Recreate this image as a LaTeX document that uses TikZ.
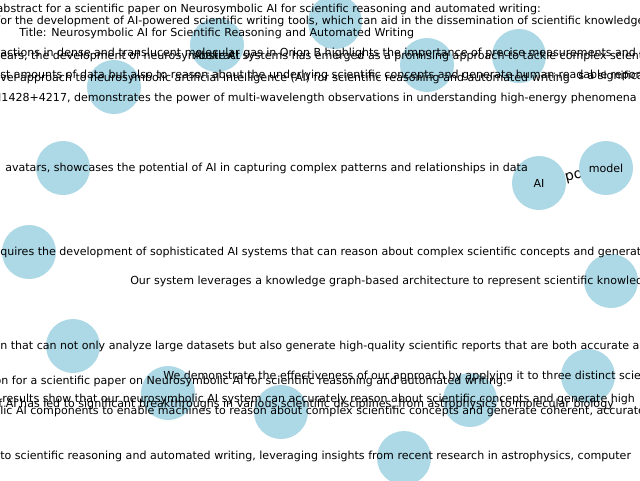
\documentclass[tikz,border=0pt]{standalone}
\usepackage{fontspec}
\setmainfont{DejaVu Sans}
\definecolor{lb}{HTML}{ADD8E6}
\tikzset{
  dot/.style={circle,fill=lb,draw=none,inner sep=0pt,minimum size=40.5pt},
  lbl/.style={inner sep=0pt,font=\fontsize{8.3}{10}\selectfont,text=black},
}
\begin{document}
\begin{tikzpicture}[x=0.75pt,y=-0.75pt]
\clip (0,0) rectangle (640,480);
\fill[white] (0,0) rectangle (640,480);
% edge label under the model circle
\node[lbl,font=\fontsize{10.5}{12}\selectfont,rotate=14,anchor=mid west] (el) at (565,178) {po};
% circles
\node[dot] (c1) at (217,45) {};
\node[dot] (c2) at (335,22) {};
\node[dot] (c3) at (427,65) {};
\node[dot] (c4) at (519,56) {};
\node[dot] (c5) at (114,87) {};
\node[dot] (c6) at (63,168) {};
\node[dot] (c7) at (539,183) {};
\node[dot] (c8) at (606,168) {};
\node[dot] (c9) at (29,252) {};
\node[dot] (c10) at (611,281) {};
\node[dot] (c11) at (73,346) {};
\node[dot] (c12) at (588,376) {};
\node[dot] (c13) at (168,393) {};
\node[dot] (c14) at (281,412) {};
\node[dot] (c15) at (470,400) {};
\node[dot] (c16) at (404,458) {};
% labels
\node[lbl,anchor=mid east] (t1) at (541,9) {Here is an abstract for a scientific paper on Neurosymbolic AI for scientific reasoning and automated writing:};
\node[lbl,anchor=mid west] (t2) at (0,21) {\llap{f}or the development of AI-powered scientific writing tools, which can aid in the dissemination of scientific knowledge};
\node[lbl,anchor=mid west] (t3) at (19,33) {Title: Neurosymbolic AI for Scientific Reasoning and Automated Writing};
\node[lbl,anchor=mid west] (t4) at (0,53) {\llap{inter}actions in dense and translucent molecular gas in Orion B highlights the importance of precise measurements and};
\node[lbl,anchor=mid west] (t5) at (0,56) {\llap{In recent y}ears, the development of neurosymbolic AI systems has emerged as a promising approach to tackle complex scientific};
\node[lbl] (t6) at (217,55) {Abstract};
\node[lbl,anchor=mid west] (t7) at (0,75) {\llap{va}st amounts of data but also to reason about the underlying scientific concepts and generate human-readable reports};
\node[lbl,anchor=mid west] (t8) at (0,78) {\llap{a no}vel approach to neurosymbolic artificial intelligence (AI) for scientific reasoning and automated writing};
\node[lbl,anchor=mid west] (t9) at (578,76) {s a significant};
\node[lbl,anchor=mid east] (t10) at (637,98) {J1428+4217, demonstrates the power of multi-wavelength observations in understanding high-energy phenomena};
\node[lbl,anchor=mid east] (t11) at (528,168) {avatars, showcases the potential of AI in capturing complex patterns and relationships in data};
\node[lbl] (t12) at (539,183) {AI};
\node[lbl] (t13) at (606,168) {model};
\node[lbl,anchor=mid west] (t14) at (0,252) {\llap{re}quires the development of sophisticated AI systems that can reason about complex scientific concepts and generate};
\node[lbl,anchor=mid west] (t15) at (130,281) {Our system leverages a knowledge graph-based architecture to represent scientific knowledge};
\node[lbl,anchor=mid west] (t16) at (0,346) {\llap{desig}n that can not only analyze large datasets but also generate high-quality scientific reports that are both accurate and};
\node[lbl,anchor=mid west] (t17) at (163,376) {We demonstrate the effectiveness of our approach by applying it to three distinct scientific};
\node[lbl,anchor=mid east] (t18) at (507,381) {Here is a revised version for a scientific paper on Neurosymbolic AI for scientific reasoning and automated writing:};
\node[lbl,anchor=mid west] (t19) at (2,399) {\llap{Our }results show that our neurosymbolic AI system can accurately reason about scientific concepts and generate high};
\node[lbl,anchor=mid east] (t20) at (614,404) {The rise of AI has led to significant breakthroughs in various scientific disciplines, from astrophysics to molecular biology};
\node[lbl,anchor=mid west] (t21) at (0,411) {\llap{neurosymbo}lic AI components to enable machines to reason about complex scientific concepts and generate coherent, accurate};
\node[lbl,anchor=mid west] (t22) at (0,456) {\llap{a novel approach }to scientific reasoning and automated writing, leveraging insights from recent research in astrophysics, computer};
\end{tikzpicture}
\end{document}
